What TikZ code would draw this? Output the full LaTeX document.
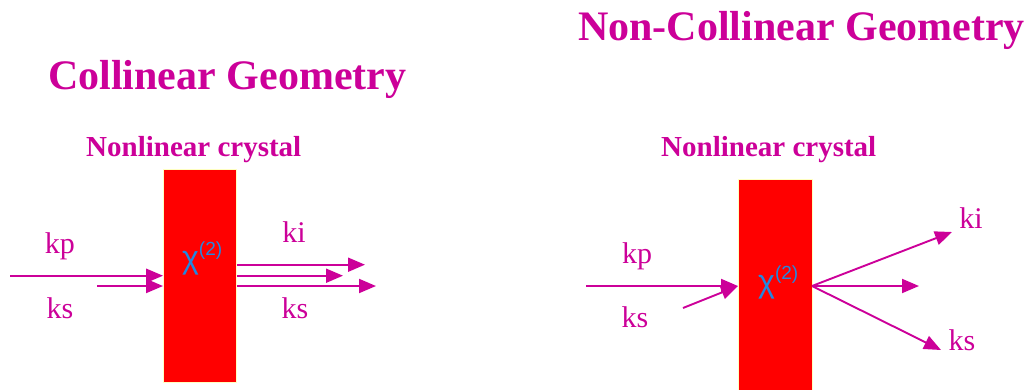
\documentclass[tikz,border=0pt]{standalone}
\usepackage{fontspec}
\setmainfont{Liberation Serif}
\newfontfamily\chifont{Liberation Sans}
\usetikzlibrary{arrows.meta,calc}
\definecolor{mag}{HTML}{CC0099}
\definecolor{chiblue}{HTML}{2288E0}
\definecolor{edgey}{HTML}{FFFFC0}
\newcommand{\chitwo}{χ\raisebox{13pt}{\fontsize{19}{22}\selectfont(2)}}
\begin{document}
\begin{tikzpicture}[x=1pt,y=-1pt,
  title/.style={anchor=base west,inner sep=0,text=mag,font=\fontsize{42}{48}\selectfont\bfseries},
  sub/.style={anchor=base west,inner sep=0,text=mag,font=\fontsize{29}{34}\selectfont\bfseries},
  lab/.style={anchor=base,inner sep=0,text=mag,font=\fontsize{30}{34}\selectfont},
  crystal/.style={draw=edgey,line width=0.8pt,fill=red,inner sep=0,anchor=north west},
  chi/.style={anchor=base west,inner sep=0,text=chiblue,font=\chifont\fontsize{32}{36}\selectfont},
  beam/.style={draw=mag,line width=1.9pt,-{Triangle[length=17pt,width=14pt]}}]
\useasboundingbox (0,0) rectangle (1034,389);

% titles
\node[title] (t1) at (48,89) {Collinear Geometry};
\node[title] (t2) at (578,40) {Non-Collinear Geometry};
\node[sub] (s1) at (86,156) {Nonlinear crystal};
\node[sub] (s2) at (661,156) {Nonlinear crystal};

% left crystal
\node[crystal,minimum width=73pt,minimum height=213pt] (cL) at (163,169) {};
\node[chi] (chiL) at (182,268) {\chitwo};
\coordinate (kpLs) at (10,275.7);
\coordinate (ksLs) at (97,286);
\draw[beam] (kpLs) -- (kpLs -| cL.west);
\draw[beam] (ksLs) -- (ksLs -| cL.west);
\coordinate (o1) at (365,264.7);
\coordinate (o2) at (343,275.7);
\coordinate (o3) at (376,286);
\draw[beam] (o1 -| cL.east) -- (o1);
\draw[beam] (o2 -| cL.east) -- (o2);
\draw[beam] (o3 -| cL.east) -- (o3);
\node[lab] (kpL) at (60,253) {kp};
\node[lab] (ksL) at (60,318) {ks};
\node[lab] (kiR) at (294,242) {ki};
\node[lab] (ksR) at (295,318) {ks};

% right crystal
\node[crystal,minimum width=74pt,minimum height=212pt] (cR) at (738,179) {};
\node[chi] (chiR) at (758,292) {\chitwo};
\coordinate (inR) at (738,286);
\coordinate (outR) at (812,286);
\coordinate (kpRs) at (586,286);
\coordinate (ksRs) at (683,308);
\draw[beam] (kpRs) -- (inR);
\draw[beam] (ksRs) -- (inR);
\coordinate (p1) at (952,232);
\coordinate (p2) at (919,286);
\coordinate (p3) at (941,350);
\draw[beam] (outR) -- (p1);
\draw[beam] (outR) -- (p2);
\draw[beam] (outR) -- (p3);
\node[lab] (kpR) at (637,263) {kp};
\node[lab] (ksR2) at (635,327) {ks};
\node[lab] (kiR2) at (971,228) {ki};
\node[lab] (ksR3) at (962,350) {ks};
\end{tikzpicture}
\end{document}
